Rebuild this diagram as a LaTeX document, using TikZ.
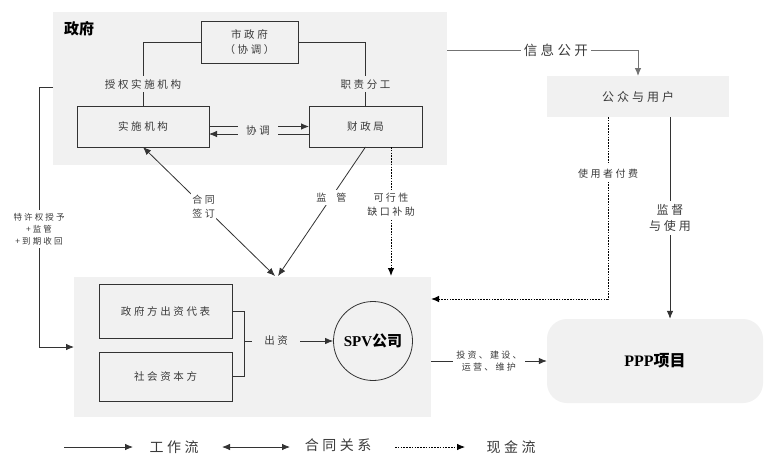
\documentclass[tikz,border=0pt]{standalone}
\usepackage{fontspec}
\setmainfont{Liberation Serif}
\newfontfamily\cjk{Noto Sans CJK SC}[LetterSpace=25]
\newfontfamily\cjkt{Noto Sans CJK SC}
\usetikzlibrary{arrows.meta,calc}
\definecolor{regfill}{HTML}{F1F1F1}
\definecolor{txtc}{HTML}{3A3A3A}
\newcommand\lblfont[1]{\cjk\fontsize{#1}{#1}\selectfont\baselineskip=1.4\dimexpr #1pt\relax}
\tikzset{
  region/.style={fill=regfill, draw=none, minimum width=#1, inner sep=0pt, outer sep=0pt},
  boxn/.style={draw=black!80, line width=0.8pt, fill=regfill, inner sep=0pt, outer sep=0pt, text=txtc, font=\lblfont{10.5}, align=center},
  lbl/.style={text=txtc, font=\lblfont{#1}, align=center, inner sep=1.5pt},
  lbl/.default=10,
  line/.style={draw=black!80, line width=0.8pt},
  arr/.style={line, -{Latex[length=8pt,width=6.5pt]}},
  arrboth/.style={line, {Latex[length=8pt,width=6.5pt]}-{Latex[length=8pt,width=6.5pt]}},
  dotarr/.style={draw=black, line width=1pt, dash pattern=on 1.6pt off 1.2pt, -{Latex[length=8pt,width=6.5pt]}},
}
\begin{document}
\begin{tikzpicture}[x=1pt,y=-1pt]
\useasboundingbox (0,0) rectangle (781,466);
\fill[white] (0,0) rectangle (781,466);

% regions
\node[region=394pt, minimum height=153pt] (gov) at (250,88.5) {};
\node[region=357pt, minimum height=140pt] (spvr) at (252.5,347) {};
\node[anchor=center, font=\cjkt\bfseries\fontsize{15}{18}\selectfont, inner sep=0pt] (govt) at (79,29) {政府};

% government boxes
\node[boxn, minimum width=97pt, minimum height=42pt] (mzf) at (249.5,42) {市政府\\（协调）};
\node[boxn, minimum width=132pt, minimum height=41pt] (ss) at (143,126.5) {实施机构};
\node[boxn, minimum width=113pt, minimum height=41pt] (cz) at (365.5,126.5) {财政局};

\draw[line] (mzf.west) -| node[pos=0.83, lbl=10.5, fill=regfill, inner ysep=3pt] (lsq) {授权实施机构} (ss.north);
\draw[line] (mzf.east) -| node[pos=0.83, lbl=10.5, fill=regfill, inner ysep=3pt] (lzz) {职责分工} (cz.north);
\draw[arr] (ss.east) -- (cz.west);
\draw[arr] ([yshift=-7.5pt]cz.west) -- ([yshift=-7.5pt]ss.east);
\node[lbl=10.5, fill=regfill, inner xsep=8pt, inner ysep=4pt] (lxt) at (258,130.5) {协调};

% public
\node[region=182pt, minimum height=41pt, text=txtc, font=\lblfont{12}] (gz) at (638,96.5) {公众与用户};
\coordinate (info) at (447,50);
\draw[draw=black!55, line width=0.9pt, -{Latex[length=8pt,width=6.5pt]}] (info) -| node[pos=0.285, lbl=13.5, fill=white, inner xsep=3pt] (lxx) {信息公开} (gz.north);

% bottom
\node[boxn, minimum width=133pt, minimum height=54pt] (zf) at (165.5,311) {政府方出资代表};
\node[boxn, minimum width=133pt, minimum height=49pt] (sh) at (165.5,376.5) {社会资本方};
\node[draw=black!80, line width=0.8pt, circle, minimum size=79pt, inner sep=0pt, font=\bfseries\fontsize{15}{18}\selectfont] (spv) at (373,341) {SPV{\cjkt\bfseries 公司}};
\draw[line] (zf.east) -- ++(12,0) coordinate (b1) -- (b1 |- sh.east) -- (sh.east);
\coordinate (bm) at (244,341);
\draw[arr] (bm) -- node[lbl=10.5, fill=regfill, inner xsep=12pt, inner ysep=4pt, pos=0.36] (lcz) {出资} (spv.west);

% PPP
\node[fill=regfill, rounded corners=20pt, minimum width=216pt, minimum height=84pt, inner sep=0pt, font=\bfseries\fontsize{16}{19}\selectfont] (ppp) at (655,361) {PPP{\cjkt\bfseries 项目}};
\coordinate (se) at (431,361);
\draw[arr] (se) -- node[lbl=9, fill=white, inner xsep=3pt] (ltz) {投资、建设、\\运营、维护} (ppp.west);

% public to project
\coordinate (pay) at (431,299);
\draw[dotarr] ([xshift=-30pt]gz.south) |- node[pos=0.155, lbl=10, fill=white, inner ysep=4pt] (lsy) {使用者付费} (pay);
\draw[arr] ([xshift=32pt]gz.south) -- node[pos=0.5, lbl=12, fill=white, inner ysep=3pt] (ljd) {监督\\与使用} ([xshift=15pt]ppp.north);

% government to bottom
\coordinate (t1) at (275,276);
\coordinate (t2) at (278,276);
\coordinate (t3) at (391,276);
\draw[arrboth] (ss.south) -- node[pos=0.46, lbl=10, fill=white, inner ysep=2pt] (lht) {合同\\签订} (t1);
\draw[arr] (cz.south) -- node[pos=0.39, lbl=10, fill=white, inner ysep=3pt] (ljg) {监\quad 管} (t2);
\draw[dotarr] (cz.south -| t3) -- node[pos=0.45, lbl=10, fill=white, inner ysep=3pt] (lkx) {可行性\\缺口补助} (t3);

% left loop
\coordinate (gl) at (53,87);
\coordinate (lc) at (39,87);
\coordinate (bl) at (74,347);
\draw[arr] (gl) -- (lc) |- (bl);
\node[lbl=8.5, fill=white, inner ysep=3pt] (ltx) at (39,229) {特许权授予\\+监管\\+到期收回};

% legend
\coordinate (a1) at (64,447); \coordinate (a2) at (133,447);
\coordinate (b1l) at (222,447); \coordinate (b2l) at (290,447);
\coordinate (c1) at (395,447); \coordinate (c2) at (465,447);
\draw[arr] (a1) -- (a2);
\draw[arrboth] (b1l) -- (b2l);
\draw[dotarr, line width=0.8pt] (c1) -- (c2);
\node[lbl=14] (lg1) at (174,447) {工作流};
\node[lbl=14] (lg2) at (338,445) {合同关系};
\node[lbl=14] (lg3) at (511,447) {现金流};
\end{tikzpicture}
\end{document}
